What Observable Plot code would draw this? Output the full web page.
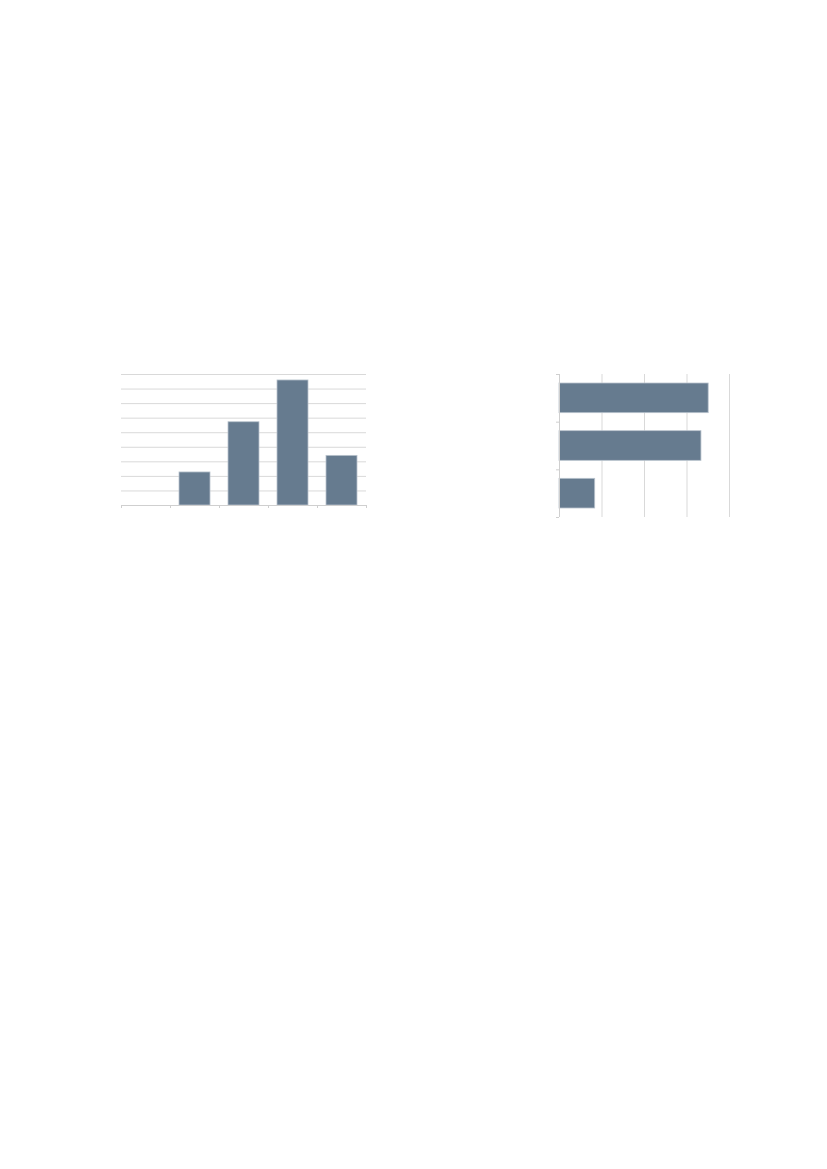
<!DOCTYPE html>
<html>
<head>
<meta charset="utf-8">
<script src="https://cdn.jsdelivr.net/npm/d3@7"></script>
<script src="https://cdn.jsdelivr.net/npm/@observablehq/plot@0.6"></script>
<style>
  html, body { margin: 0; padding: 0; background: #fff; width: 827px; height: 1169px; position: relative; overflow: hidden; }
  #left { position: absolute; left: 100px; top: 360px; }
  #right { position: absolute; left: 540px; top: 360px; }
  svg { display: block; }
</style>
</head>
<body>
<div id="left"></div>
<div id="right"></div>
<script>
// Left column chart
const colCategories = ["A", "B", "C", "D", "E"];
const colValues = [0, 2.27, 5.72, 8.59, 3.41];
const colTicks = [0, 1, 2, 3, 4, 5, 6, 7, 8, 9];

// Right bar chart
const barCategories = ["P", "Q", "R"];
const barValues = [3.51, 3.34, 0.84];
const barTicks = [0, 1, 2, 3, 4];

const barColor = "#667b8f";
const gridColor = "#d9d9d9";

const colData = colCategories.map((c, i) => ({cat: c, idx: i, value: colValues[i]}));
const barData = barCategories.map((c, i) => ({cat: c, idx: i, value: barValues[i]}));

const left = Plot.plot({
  width: 280,
  height: 160,
  marginLeft: 21,
  marginRight: 14,
  marginTop: 14,
  marginBottom: 15,
  x: {domain: [0, colCategories.length], axis: null},
  y: {domain: [0, 9], axis: null},
  marks: [
    Plot.ruleY(colTicks.slice(1), {stroke: gridColor, strokeWidth: 1}),
    Plot.rectY(colData, {
      x1: "idx", x2: d => d.idx + 1, y: "value",
      insetLeft: 9, insetRight: 9,
      fill: barColor, stroke: "#b9c3cd", strokeWidth: 0.8
    }),
    Plot.ruleY([0], {stroke: "#cfcfcf", strokeWidth: 1}),
    Plot.axisX({ticks: d3.range(0, colCategories.length + 1), tickSize: 3, tickFormat: () => "", label: null, stroke: "#cfcfcf"})
  ]
});
document.getElementById("left").appendChild(left);

const right = Plot.plot({
  width: 200,
  height: 170,
  marginLeft: 19,
  marginRight: 11,
  marginTop: 14,
  marginBottom: 13,
  x: {domain: [0, 4], axis: null},
  y: {domain: [0, barCategories.length], reverse: true, axis: null},
  marks: [
    Plot.ruleX(barTicks.slice(1), {stroke: gridColor, strokeWidth: 1}),
    Plot.rectX(barData, {
      y1: "idx", y2: d => d.idx + 1, x: "value",
      insetTop: 9, insetBottom: 9,
      fill: barColor, stroke: "#b9c3cd", strokeWidth: 0.8
    }),
    Plot.ruleX([0], {stroke: "#cfcfcf", strokeWidth: 1}),
    Plot.axisY({ticks: d3.range(0, barCategories.length + 1), tickSize: 3, tickFormat: () => "", label: null, stroke: "#cfcfcf"})
  ]
});
document.getElementById("right").appendChild(right);
</script>
</body>
</html>
